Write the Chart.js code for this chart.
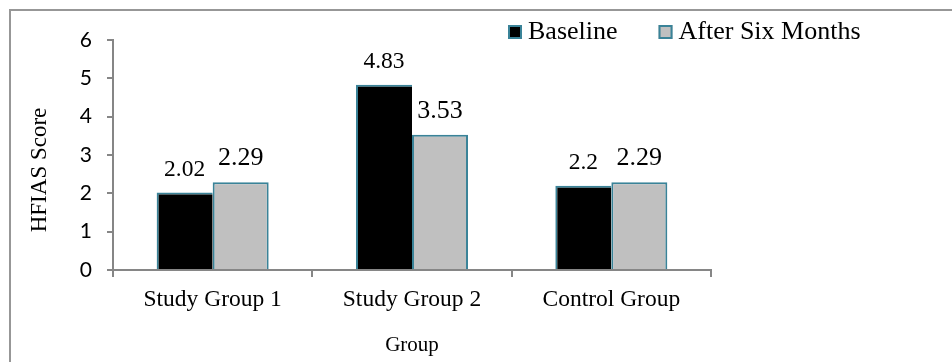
<!DOCTYPE html>
<html>
<head>
<meta charset="utf-8">
<script src="https://cdn.jsdelivr.net/npm/chart.js@4/dist/chart.umd.min.js"></script>
<style>
  html, body { margin: 0; padding: 0; background: #ffffff; }
  #wrap { width: 952px; height: 362px; }
</style>
</head>
<body>
<div id="wrap"><canvas id="c" width="952" height="362"></canvas></div>
<script>
// HFIAS scores by group
const categories = ['Study Group 1', 'Study Group 2', 'Control Group'];
const baselineScores = [2.02, 4.83, 2.2];
const afterSixMonthsScores = [2.29, 3.53, 2.29];
const seriesNames = ['Baseline', 'After Six Months'];
const yTickValues = [0, 1, 2, 3, 4, 5, 6];
const yAxisTitle = 'HFIAS Score';
const xAxisTitle = 'Group';

const SERIF = '"Liberation Serif", "Times New Roman", serif';
const SANS = 'Lato, sans-serif';
const EDGE = '#3A8398';
const AXIS = '#868686';

// outer frame (top and left rules)
const framePlugin = {
  id: 'frame',
  beforeDraw(chart) {
    const ctx = chart.ctx;
    ctx.save();
    ctx.fillStyle = '#ffffff';
    ctx.fillRect(0, 0, chart.width, chart.height);
    ctx.strokeStyle = '#979797';
    ctx.lineWidth = 2;
    ctx.beginPath();
    ctx.moveTo(10, chart.height);
    ctx.lineTo(10, 10);
    ctx.lineTo(chart.width, 10);
    ctx.stroke();
    ctx.restore();
  }
};

// value labels above each bar
const valueLabelPlugin = {
  id: 'valueLabels',
  afterDatasetsDraw(chart) {
    const ctx = chart.ctx;
    ctx.save();
    ctx.fillStyle = '#000000';
    ctx.textAlign = 'center';
    ctx.textBaseline = 'alphabetic';
    chart.data.datasets.forEach((ds, i) => {
      const meta = chart.getDatasetMeta(i);
      ctx.font = ds.labelFontSize + 'px ' + SERIF;
      meta.data.forEach((bar, j) => {
        ctx.fillText(String(ds.data[j]), bar.x, bar.y - 17);
      });
    });
    ctx.restore();
  }
};

// legend in the upper right
const legendPlugin = {
  id: 'sideLegend',
  afterDraw(chart) {
    const ctx = chart.ctx;
    ctx.save();
    ctx.font = '26px ' + SERIF;
    ctx.textBaseline = 'alphabetic';
    ctx.textAlign = 'left';
    let x = 508;
    const boxTop = 25, box = 14;
    chart.data.datasets.forEach((ds) => {
      ctx.fillStyle = ds.backgroundColor;
      ctx.fillRect(x, boxTop, box, box);
      ctx.strokeStyle = EDGE;
      ctx.lineWidth = 2;
      ctx.strokeRect(x + 1, boxTop + 1, box - 2, box - 2);
      ctx.fillStyle = '#000000';
      ctx.fillText(ds.label, x + box + 6, 39);
      x += box + 6 + ctx.measureText(ds.label).width + 41;
    });
    ctx.restore();
  }
};

// rotated y-axis title
const yTitlePlugin = {
  id: 'yTitle',
  afterDraw(chart) {
    const ctx = chart.ctx;
    ctx.save();
    ctx.translate(46, 170);
    ctx.rotate(-Math.PI / 2);
    ctx.font = '23px ' + SERIF;
    ctx.fillStyle = '#000000';
    ctx.textAlign = 'center';
    ctx.textBaseline = 'alphabetic';
    ctx.fillText(yAxisTitle, 0, 0);
    ctx.restore();
  }
};

new Chart(document.getElementById('c'), {
  type: 'bar',
  data: {
    labels: categories,
    datasets: [
      {
        label: seriesNames[0],
        data: baselineScores,
        backgroundColor: '#000000',
        borderColor: EDGE,
        borderWidth: { top: 2, left: 2, right: 0, bottom: 0 },
        labelFontSize: 23.5
      },
      {
        label: seriesNames[1],
        data: afterSixMonthsScores,
        backgroundColor: '#C0C0C0',
        borderColor: EDGE,
        borderWidth: { top: 2, left: 2, right: 2, bottom: 0 },
        labelFontSize: 26
      }
    ]
  },
  options: {
    responsive: false,
    animation: false,
    devicePixelRatio: 1,
    layout: { padding: { left: 0, right: 241, top: 40, bottom: 0 } },
    datasets: {
      bar: { categoryPercentage: 0.562, barPercentage: 1.0, inflateAmount: 0 }
    },
    plugins: {
      legend: { display: false },
      tooltip: { enabled: false },
      title: { display: false }
    },
    scales: {
      x: {
        grid: {
          offset: true,
          drawOnChartArea: false,
          drawTicks: true,
          tickLength: 7,
          lineWidth: 2,
          tickColor: AXIS
        },
        border: { display: true, color: AXIS, width: 2 },
        ticks: {
          color: '#000000',
          font: { family: SERIF, size: 23.5 },
          padding: 9,
          maxRotation: 0
        },
        title: {
          display: true,
          text: xAxisTitle,
          color: '#000000',
          font: { family: SERIF, size: 21 },
          padding: { top: 0, bottom: 4 }
        },
        afterFit(scale) { scale.height = 92; }
      },
      y: {
        min: 0,
        max: 6,
        afterBuildTicks(scale) { scale.ticks = yTickValues.map(v => ({ value: v })); },
        grid: {
          drawOnChartArea: false,
          drawTicks: true,
          tickLength: 6,
          lineWidth: 2,
          tickColor: AXIS
        },
        border: { display: true, color: AXIS, width: 2 },
        ticks: {
          color: '#000000',
          font: { family: SANS, size: 21 },
          padding: 15
        },
        afterFit(scale) { scale.width = 113; }
      }
    }
  },
  plugins: [framePlugin, valueLabelPlugin, legendPlugin, yTitlePlugin]
});
</script>
</body>
</html>
